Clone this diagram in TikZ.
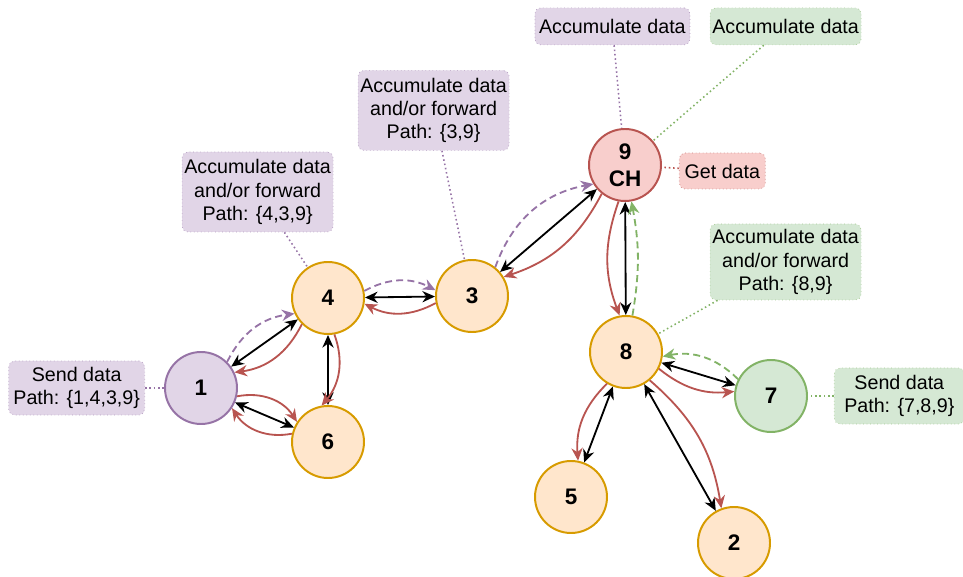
\documentclass[tikz,border=0pt]{standalone}
\usepackage{fontspec}
\setmainfont{Liberation Sans}
\usepackage{tikz}
\usetikzlibrary{arrows.meta, positioning}
\definecolor{purpfill}{HTML}{E1D5E7}
\definecolor{purpline}{HTML}{9673A6}
\definecolor{orgfill}{HTML}{FFE6CC}
\definecolor{orgline}{HTML}{D79B00}
\definecolor{redfill}{HTML}{F8CECC}
\definecolor{redline}{HTML}{B85450}
\definecolor{grnfill}{HTML}{D5E8D4}
\definecolor{grnline}{HTML}{82B366}
\tikzset{
    sensor/.style={
        circle,
        draw=orgline,
        fill=orgfill,
        line width=1.4pt,
        minimum size=1.8cm,
        inner sep=0pt,
        align=center,
        font=\fontsize{16}{19}\selectfont\bfseries
    },
    note/.style={
        rectangle,
        rounded corners=4pt,
        dotted,
        line width=0.5pt,
        inner sep=0pt,
        align=center,
        font=\fontsize{14}{16.5}\selectfont
    },
    link/.style={
        draw=black,
        line width=1.3pt,
        {Stealth[length=9pt, width=8pt]}-{Stealth[length=9pt, width=8pt]}
    },
    ack/.style={
        draw=redline,
        line width=1.3pt,
        -{Stealth[length=9pt, width=8pt]}
    },
    datapath/.style={
        line width=1.3pt,
        dash pattern=on 5pt off 3pt,
        -{Stealth[length=9pt, width=8pt]}
    },
    callout/.style={
        dotted,
        line width=1.1pt
    }
}

\begin{document}
\begin{tikzpicture}
\useasboundingbox (0,0) rectangle (24.075,14.4);

% Sensor nodes
\node[sensor, draw=purpline, fill=purpfill] (n1) at (5.025,4.7) {1};
\node[sensor] (n4) at (8.2,6.95) {4};
\node[sensor] (n6) at (8.2,3.35) {6};
\node[sensor] (n3) at (11.8,7.0) {3};
\node[sensor, draw=redline, fill=redfill] (n9) at (15.625,10.275) {9\\CH};
\node[sensor] (n8) at (15.65,5.6) {8};
\node[sensor, draw=grnline, fill=grnfill] (n7) at (19.275,4.5) {7};
\node[sensor] (n5) at (14.275,1.975) {5};
\node[sensor] (n2) at (18.35,0.825) {2};

% Notes
\node[note, fill=purpfill, draw=purpline!70, minimum width=3.4cm, minimum height=1.35cm, left=0.475cm of n1] (send1) {Send data\\Path: \{1,4,3,9\}};
\node[note, fill=purpfill, draw=purpline!70, minimum width=3.775cm, minimum height=2cm] (acc4) at (6.44,9.6) {Accumulate data\\and/or forward\\Path: \{4,3,9\}};
\node[note, fill=purpfill, draw=purpline!70, minimum width=3.775cm, minimum height=2cm] (acc3) at (10.84,11.64) {Accumulate data\\and/or forward\\Path: \{3,9\}};
\node[note, fill=purpfill, draw=purpline!70, minimum width=3.875cm, minimum height=0.925cm] (acc9p) at (15.31,13.74) {Accumulate data};
\node[note, fill=grnfill, draw=grnline!70, minimum width=3.775cm, minimum height=0.925cm] (acc9g) at (19.64,13.74) {Accumulate data};
\node[note, fill=redfill, draw=redline!70, minimum width=2.15cm, minimum height=0.9cm, right=0.425cm of n9, yshift=-0.15cm] (get9) {Get data};
\node[note, fill=grnfill, draw=grnline!70, minimum width=3.775cm, minimum height=1.9cm] (acc8) at (19.64,7.85) {Accumulate data\\and/or forward\\Path: \{8,9\}};
\node[note, fill=grnfill, draw=grnline!70, minimum width=3.25cm, minimum height=1.4cm, right=0.65cm of n7] (send7) {Send data\\Path: \{7,8,9\}};

% Callout lines
\draw[callout, purpline] (send1) -- (n1);
\draw[callout, purpline] (acc4) -- (n4);
\draw[callout, purpline] (acc3) -- (n3);
\draw[callout, purpline] (acc9p) -- (n9);
\draw[callout, grnline] (acc9g) -- (n9);
\draw[callout, redline] (get9) -- (n9);
\draw[callout, grnline] (acc8) -- (n8);
\draw[callout, grnline] (send7) -- (n7);

% Links 1-4-3-9
\draw[link] (n1) -- (n4);
\draw[ack] (n4.225) to[bend left=28] (n1.25);
\draw[datapath, purpline] (n1.45) to[bend left=28] (n4.205);
\draw[link] (n4) -- (n3);
\draw[ack] (n3.191) to[bend left=28] (n4.-9);
\draw[datapath, purpline] (n4.11) to[bend left=28] (n3.171);
\draw[link] (n3) -- (n9);
\draw[ack] (n9.231) to[bend left=22] (n3.31);
\draw[datapath, purpline] (n3.51) to[bend left=30] (n9.211);

% Links 4-6 and 1-6
\draw[link] (n4) -- (n6);
\draw[ack] (n4.-80) to[bend left=30] (n6.100);
\draw[link] (n1) -- (n6);
\draw[ack] (n1.-13) to[bend left=34] (n6.147);
\draw[ack] (n6.167) to[bend left=34] (n1.-33);

% Links 9-8-7
\draw[link] (n9) -- (n8);
\draw[ack] (n9.-100) to[bend right=20] (n8.100);
\draw[datapath, grnline] (n8.80) to[bend right=10] (n9.-80);
\draw[link] (n8) -- (n7);
\draw[ack] (n8.-27) to[bend right=22] (n7.173);
\draw[datapath, grnline] (n7.153) to[bend right=28] (n8.-7);

% Links 8-5 and 8-2
\draw[link] (n8) -- (n5);
\draw[ack] (n8.239) to[bend right=25] (n5.79);
\draw[link] (n8) -- (n2);
\draw[ack] (n8.-50) to[bend left=20] (n2.110);

\end{tikzpicture}
\end{document}
